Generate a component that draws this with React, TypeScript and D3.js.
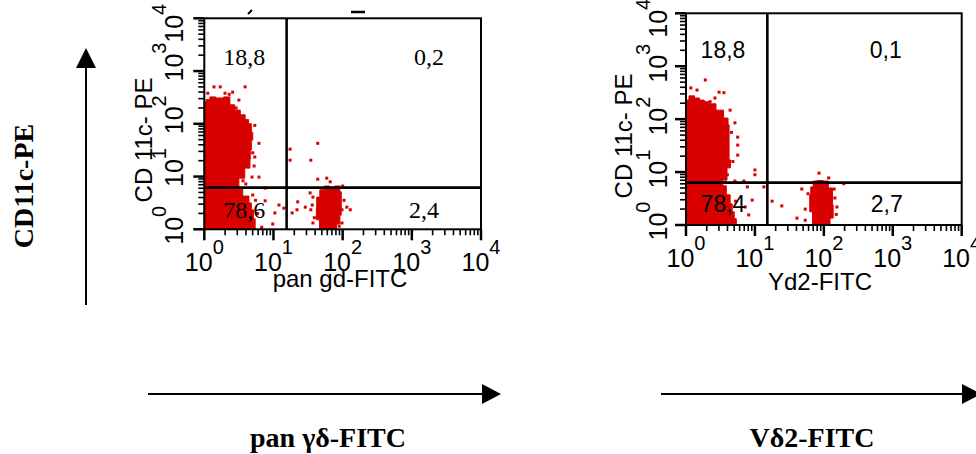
import React from "react";
import * as d3 from "d3";

type Pt = [number, number];

// Axis decades (log10 fluorescence), both axes 10^0 .. 10^4
const decades = [0, 1, 2, 3, 4];
const minorMultipliers = [2, 3, 4, 5, 6, 7, 8, 9];

const xTitles = ["pan gd-FITC", "Yd2-FITC"];
const yTitle = "CD 11c- PE";
const quadValues1 = ["18,8", "0,2", "78,6", "2,4"];
const quadValues2 = ["18,8", "0,1", "78,4", "2,7"];
const gateX = [1.19, 1.18];
const gateY = [0.79, 0.8];

// Panel 1 (pan gd-FITC vs CD11c-PE), values in decades [log10 FITC, log10 PE]
const p1MainOutline: Pt[] = [
  [0, 0], [0, 2.41], [0.05, 2.46], [0.11, 2.51], [0.22, 2.49], [0.34, 2.51], [0.4, 2.36],
  [0.48, 2.26], [0.56, 2.17], [0.62, 2.08], [0.66, 2.0], [0.7, 1.84], [0.7, 1.69],
  [0.66, 1.5], [0.67, 1.33], [0.65, 1.16], [0.52, 0.97], [0.48, 0.78],
  [0.63, 0.63], [0.66, 0.5], [0.7, 0.37], [0.72, 0.2], [0.75, 0],
];
const p1GdOutline: Pt[] = [
  [1.7, 0], [1.63, 0.18], [1.61, 0.4], [1.64, 0.61], [1.7, 0.75], [1.77, 0.82],
  [1.85, 0.8], [1.93, 0.82], [1.99, 0.71], [1.97, 0.5], [1.99, 0.27], [1.93, 0.1], [1.89, 0],
];
const p1Events: Pt[] = [
  [0.14, 2.7], [0.23, 2.7], [0.59, 2.7], [0.05, 2.58], [0.41, 2.6], [0.5, 2.45],
  [0.46, 2.3], [0.73, 1.97], [0.79, 1.63], [0.73, 1.37], [0.69, 0.99], [0.79, 0.99],
  [0.88, 0.78], [0.7, 0.65], [1.24, 1.52], [1.24, 1.31], [1.54, 1.31], [1.64, 1.63],
  [1.08, 0.46], [1.02, 0.31], [1.15, 0.4], [0.99, 0.1], [0.83, 0.04], [0.88, 0.54],
  [1.35, 0.52], [1.34, 0.37], [1.46, 0.42], [1.56, 0.46], [1.54, 0.37], [1.57, 0.12],
  [1.64, 0.95], [1.77, 0.97], [1.82, 0.9], [1.99, 0.37], [2.06, 0.42], [2.11, 0.37],
  [1.99, 0.12], [1.57, 0.61], [1.53, 0.69], [2.0, 0.82], [1.27, 0.31],
  [0.6, 0.86], [0.56, 0.92], [0.74, 0.55], [0.77, 0.3], [0.72, 1.2], [0.7, 1.45],
  [0.3, 2.58], [0.36, 2.56], [1.59, 0.22], [2.02, 0.55], [1.95, 0.06],
];

// Panel 2 (Vd2-FITC vs CD11c-PE)
const p2MainOutline: Pt[] = [
  [0, 0], [0, 2.36], [0.087, 2.44], [0.16, 2.4], [0.23, 2.36], [0.3, 2.33], [0.38, 2.29],
  [0.49, 2.17], [0.6, 2.02], [0.62, 1.89], [0.63, 1.6], [0.62, 1.23], [0.67, 1.08],
  [0.52, 0.85], [0.55, 0.74], [0.62, 0.57], [0.66, 0.4], [0.68, 0.25], [0.72, 0.12], [0.74, 0],
];
const p2Vd2Outline: Pt[] = [
  [1.87, 0], [1.8, 0.25], [1.79, 0.57], [1.83, 0.72], [1.86, 0.83], [1.95, 0.84],
  [2.03, 0.83], [2.1, 0.7], [2.15, 0.38], [2.12, 0.13], [2.06, 0],
];
const p2Events: Pt[] = [
  [0.28, 2.74], [0.07, 2.59], [0.16, 2.55], [0.48, 2.51], [0.55, 2.5], [0.35, 2.33],
  [0.64, 2.17], [0.71, 1.93], [0.75, 1.66], [0.75, 1.51], [0.75, 1.32], [1.0, 1.04],
  [1.0, 0.95], [0.57, 0.81], [0.71, 0.83], [0.84, 0.83], [1.13, 0.72], [0.89, 0.72],
  [0.96, 0.47], [0.86, 0.34], [0.91, 0.19], [1.25, 0.45], [1.93, 0.98], [2.07, 0.89],
  [2.29, 0.78], [1.68, 0.68], [1.39, 0.36], [1.61, 0.13], [1.73, 0.3], [1.73, 0.09],
  [2.19, 0.34], [2.16, 0.51], [2.15, 0.68], [1.77, 0.59],
  [0.66, 1.75], [0.68, 1.2], [0.6, 0.95], [0.72, 0.45], [0.42, 2.4], [2.18, 0.2],
];

const RED = "#d90000";
const SANS = "'Liberation Sans', Arial, Helvetica, sans-serif";
const SERIF = "'Liberation Serif', 'Times New Roman', Times, serif";

type PanelCfg = {
  left: number; top: number; w: number; h: number;
  outlines: Pt[][]; events: Pt[];
  gx: number; gy: number;
  quad: string[]; quadFont: string; quadSize: number;
  quadPos: [number, number][];
  xTitle: string; xTitleCx: number; xTitleBase: number;
  yTitleDx: number; yTitleCy: number;
  yLabelDx: number; yLabelOff: number;
};

function Panel({ c }: { c: PanelCfg }) {
  const x = d3.scaleLinear().domain([0, 4]).range([c.left, c.left + c.w]);
  const y = d3.scaleLinear().domain([0, 4]).range([c.top + c.h, c.top]);
  const line = d3.line<Pt>().x((d) => x(d[0])).y((d) => y(d[1])).curve(d3.curveStep);
  const minor = decades.slice(0, 4).flatMap((d) => minorMultipliers.map((m) => d + Math.log10(m)));
  const bottom = c.top + c.h;
  const right = c.left + c.w;
  const qx = [c.left + c.quadPos[0][0], right - c.quadPos[1][0], c.left + c.quadPos[2][0], right - c.quadPos[3][0]];
  const qy = [c.top + c.quadPos[0][1], c.top + c.quadPos[1][1], bottom - c.quadPos[2][1], bottom - c.quadPos[3][1]];
  const yOff = (k: number) => (k === 4 ? 5 : k === 0 ? -4 : c.yLabelOff);
  return (
    <g>
      {c.outlines.map((o, i) => (
        <path key={"o" + i} d={line(o) + "Z"} fill={RED} stroke={RED} strokeWidth={1} />
      ))}
      {c.events.map((e, i) => (
        <rect key={"e" + i} x={x(e[0]) - 1.5} y={y(e[1]) - 1.5} width={3} height={3} fill={RED} />
      ))}
      <line x1={x(c.gx)} x2={x(c.gx)} y1={c.top} y2={bottom} stroke="#000" strokeWidth={2.6} />
      <line x1={c.left} x2={right} y1={y(c.gy)} y2={y(c.gy)} stroke="#000" strokeWidth={2.6} />
      <rect x={c.left} y={c.top} width={c.w} height={c.h} fill="none" stroke="#000" strokeWidth={2} />
      {minor.map((m, i) => (
        <g key={"m" + i}>
          <line x1={x(m)} x2={x(m)} y1={bottom} y2={bottom + 6} stroke="#000" strokeWidth={1.6} />
          <line x1={c.left - 6} x2={c.left} y1={y(m)} y2={y(m)} stroke="#000" strokeWidth={1.6} />
        </g>
      ))}
      {decades.map((k) => (
        <g key={"t" + k}>
          <line x1={x(k)} x2={x(k)} y1={bottom} y2={bottom + 11} stroke="#000" strokeWidth={2.5} />
          <line x1={c.left - 11} x2={c.left} y1={y(k)} y2={y(k)} stroke="#000" strokeWidth={2.5} />
          <text x={x(k)} y={bottom + 42} textAnchor="middle" fontFamily={SANS} fontSize={25} fill="#000">
            10<tspan fontSize={20} dy={-17}>{k}</tspan>
          </text>
          <text
            transform={`translate(${c.left + c.yLabelDx},${y(k) + yOff(k)}) rotate(-90)`}
            textAnchor="middle" fontFamily={SANS} fontSize={25} fill="#000"
          >
            10<tspan fontSize={20} dy={-17}>{k}</tspan>
          </text>
        </g>
      ))}
      <text x={c.xTitleCx} y={c.xTitleBase} textAnchor="middle" fontFamily={SANS} fontSize={24} fill="#000">
        {c.xTitle}
      </text>
      <text
        transform={`translate(${c.left + c.yTitleDx},${c.yTitleCy}) rotate(-90)`}
        textAnchor="middle" fontFamily={SANS} fontSize={24} fill="#000"
      >
        {yTitle}
      </text>
      {c.quad.map((q, i) => (
        <text key={"q" + i} x={qx[i]} y={qy[i]} textAnchor="middle" fontFamily={c.quadFont} fontSize={c.quadSize} fill="#000">
          {q}
        </text>
      ))}
    </g>
  );
}

export default function App() {
  const panels: PanelCfg[] = [
    {
      left: 204.3, top: 18.3, w: 276.7, h: 211,
      outlines: [p1MainOutline, p1GdOutline], events: p1Events,
      gx: gateX[0], gy: gateY[0],
      quad: quadValues1, quadFont: SERIF, quadSize: 24,
      quadPos: [[40, 47], [52, 47], [40, 11], [57, 11]],
      xTitle: xTitles[0], xTitleCx: 340, xTitleBase: 287,
      yTitleDx: -52.3, yTitleCy: 140,
      yLabelDx: -21.3, yLabelOff: -9,
    },
    {
      left: 686, top: 13.3, w: 275.7, h: 211.7,
      outlines: [p2MainOutline, p2Vd2Outline], events: p2Events,
      gx: gateX[1], gy: gateY[1],
      quad: quadValues2, quadFont: SANS, quadSize: 23,
      quadPos: [[37, 45], [76, 45], [37, 13], [75, 13]],
      xTitle: xTitles[1], xTitleCx: 820, xTitleBase: 290,
      yTitleDx: -54, yTitleCy: 136,
      yLabelDx: -19, yLabelOff: -3,
    },
  ];
  return (
    <svg width={976} height={454} style={{ position: "absolute", left: 0, top: 0, background: "#fff" }}>
      <rect x={0} y={0} width={976} height={454} fill="#fff" />
      <line x1={248} y1={14} x2={252} y2={10} stroke="#000" strokeWidth={2} />
      <line x1={351} y1={12} x2={365} y2={12} stroke="#000" strokeWidth={2.5} />
      {panels.map((p, i) => (
        <Panel key={i} c={p} />
      ))}
      <line x1={86} y1={305} x2={86} y2={64} stroke="#000" strokeWidth={2} />
      <path d="M76,68 L86,48 L96,68 Z" fill="#000" />
      <line x1={148} y1={394} x2={486} y2={394} stroke="#000" strokeWidth={2} />
      <path d="M482,384 L501,394 L482,404 Z" fill="#000" />
      <line x1={661} y1={394} x2={966} y2={394} stroke="#000" strokeWidth={2} />
      <path d="M962,384 L981,394 L962,404 Z" fill="#000" />
      <text transform="translate(33,186) rotate(-90)" textAnchor="middle" fontFamily={SERIF} fontWeight="bold" fontSize={28} fill="#000">
        CD11c-PE
      </text>
      <text x={328} y={447} textAnchor="middle" fontFamily={SERIF} fontWeight="bold" fontSize={28} fill="#000">
        pan γδ-FITC
      </text>
      <text x={812} y={447} textAnchor="middle" fontFamily={SERIF} fontWeight="bold" fontSize={28} fill="#000">
        Vδ2-FITC
      </text>
    </svg>
  );
}
